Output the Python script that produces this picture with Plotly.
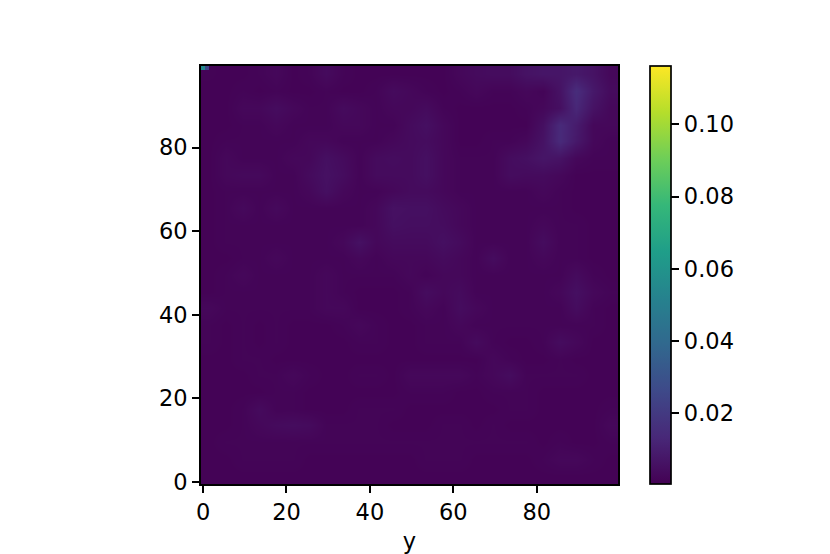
import plotly.graph_objects as go

# Estimated field values (in thousandths), coarse read of the picture; top row first
x_centers = [1.5, 5.5, 9.5, 13.5, 17.5, 21.5, 25.5, 29.5, 33.5, 37.5, 41.5, 45.5, 49.5,
             53.5, 57.5, 61.5, 65.5, 69.5, 73.5, 77.5, 81.5, 85.5, 89.5, 93.5, 97.5]
y_centers = [97.5, 93.5, 89.5, 85.5, 81.5, 77.5, 73.5, 69.5, 65.5, 61.5, 57.5, 53.5, 49.5,
             45.5, 41.5, 37.5, 33.5, 29.5, 25.5, 21.5, 17.5, 13.5, 9.5, 5.5, 1.5]
z_milli = [
 [1.2, 1, 1, 1.5, 2.5, 1, 1.5, 3.5, 1.5, 1, 1, 1, 1, 1, 1, 2.5, 3.5, 4, 4, 6, 7, 7, 8, 6, 2.5],
 [1, 1, 1.5, 1, 1.5, 1, 1, 1.5, 1, 1, 1.5, 3.5, 2.5, 1.5, 1, 1.5, 2.5, 1.5, 1.5, 2.5, 1.5, 6, 15, 8, 3.5],
 [1, 1, 2.5, 2.5, 4, 2.5, 1.5, 1.5, 3.5, 2.5, 1.5, 2.5, 2.5, 3.5, 1.5, 1, 1, 1, 1, 1.5, 2.5, 5, 13, 6, 2.5],
 [1, 1, 1.5, 1.5, 2.5, 1.5, 1.5, 1.5, 2.5, 2.5, 1.5, 1.5, 3.5, 5, 2.5, 1, 1, 1, 1, 1, 5, 14, 9, 2.5, 2.5],
 [1, 1.5, 1.5, 1.5, 1.5, 1.5, 2.5, 2.5, 1.5, 1.5, 1.5, 2.5, 3.5, 4, 2.5, 1, 1, 1.5, 1.5, 2.5, 6, 14, 8, 2.5, 1.5],
 [1, 2.5, 1.5, 1.5, 1.5, 2.5, 2.5, 5, 3.5, 1.5, 3.5, 4, 3.5, 5, 2.5, 1.5, 1.5, 1.5, 4, 5, 7, 6, 2.5, 1.5, 1.5],
 [1, 2.5, 3, 3, 1.5, 1.5, 3.5, 5.5, 4, 1.5, 3.5, 3.5, 3.5, 5, 2.5, 1.5, 1.5, 1.5, 4, 3.5, 3.5, 2.5, 1, 1, 1],
 [1, 1.5, 1.5, 1.5, 1.5, 1.5, 2.5, 5, 2.5, 1.5, 1.5, 2.5, 3.5, 3.5, 2.5, 1.5, 1.5, 1.5, 1.5, 1.5, 2.5, 1.5, 1, 1, 1],
 [1, 1.5, 3, 1.5, 3, 1.5, 1.5, 1.5, 1.5, 1.5, 2.5, 5.5, 5, 5, 3.5, 2.5, 1.5, 1.5, 1.5, 1.5, 1.5, 1.5, 1, 1, 1],
 [1, 1.5, 1.5, 1.5, 1.5, 1.5, 1.5, 1.5, 1.5, 1.5, 2.5, 5, 4.5, 4.5, 4, 2.5, 1.5, 1.5, 1.5, 1.5, 2.5, 1.5, 1.5, 1, 1],
 [1, 1.5, 1.5, 1.5, 1.5, 1.5, 1.5, 1.5, 2.5, 5.5, 2.5, 3.5, 3.5, 3.5, 5, 3.5, 1.5, 1.5, 1.5, 1.5, 4, 1.5, 1.5, 1, 1],
 [1, 1, 1.5, 1.5, 2.5, 1.5, 1.5, 1.5, 1.5, 2.5, 1.5, 2.5, 2.5, 2.5, 3.5, 2.5, 1.5, 4, 1.5, 1.5, 2.5, 1.5, 1.5, 1, 1],
 [1, 1.5, 2.5, 1.5, 1.5, 1.5, 1.5, 2.5, 1.5, 1.5, 1.5, 1.5, 2.5, 1.5, 2.5, 2.5, 1.5, 1.5, 1.5, 1.5, 1.5, 1.5, 3.5, 1.5, 1],
 [1, 1.5, 1.5, 1.5, 1.5, 1.5, 1.5, 2.5, 1.5, 1, 1, 1, 1.5, 4, 2.5, 3.5, 1.5, 1.5, 1.5, 1.5, 1.5, 2.5, 5, 2.5, 1.5],
 [2.5, 1.5, 1.5, 1.5, 1.5, 1.5, 1.5, 2.5, 2.5, 1, 1, 1, 1.5, 2.5, 1.5, 4, 2.5, 1.5, 1.5, 1.5, 1.5, 1.5, 4, 1.5, 1],
 [1.5, 1, 1.5, 1, 1.5, 1, 1, 1, 1.5, 2.5, 1.5, 1, 1, 1.5, 1.5, 2.5, 1.5, 1.5, 1.5, 1.5, 1.5, 1.5, 1.5, 1.5, 1],
 [1.5, 1, 1.5, 1, 1.5, 1, 1, 1, 1, 1.5, 1.5, 1, 1, 1.5, 1.5, 1.5, 3.5, 1.5, 1, 1, 1.5, 4, 2.5, 1, 1],
 [1, 1, 1.5, 1.5, 1, 1, 1, 1, 1, 1, 1, 1, 1, 1, 1, 1, 1, 2.5, 1.5, 1, 1, 1.5, 1, 1, 1],
 [1, 1, 1, 1.5, 1.5, 2.5, 1.5, 1, 1, 1.5, 1.5, 1, 2.5, 2.5, 2.5, 2.5, 1.5, 2.5, 4, 1.5, 1.5, 1.5, 1.5, 1, 1],
 [1, 1, 1, 1, 1.5, 1.5, 1, 1, 1, 1, 1, 1, 1.5, 1.5, 1.5, 1, 1, 1.5, 1.5, 1.5, 1, 1, 1, 1, 1],
 [1, 1, 1.5, 3.5, 1.5, 1.5, 1, 1, 1, 1.5, 1.5, 1.5, 1, 1, 1, 1, 1, 1, 1.5, 1.5, 1, 1, 1, 1, 1.5],
 [1, 1, 1.5, 2.5, 3.5, 4, 3.5, 1.5, 1.5, 1.5, 1.5, 1, 1, 1, 1.5, 1.5, 1, 1.5, 1, 1, 1, 1, 1, 1, 2.5],
 [1, 1.5, 1.5, 1.5, 1.5, 1.5, 1.5, 1.5, 1.5, 1.5, 1.5, 1.5, 1.5, 1.5, 1.5, 1.5, 1.5, 1.5, 1.5, 1.5, 1, 1.5, 1, 1, 1.5],
 [1, 1, 1.5, 1.5, 1.5, 1.5, 1, 1, 1, 1, 1, 1, 1, 1.5, 1.5, 1.5, 1, 1, 1, 1, 1.5, 2.5, 2.5, 1.5, 1],
 [1, 1, 1, 1, 1, 1, 1, 1, 1, 1, 1, 1, 1, 1, 1, 1, 1, 1, 1, 1, 1, 1, 1, 1, 1],
]
# The bright corner cell, top left
corner_x = [0, 1]
corner_y = [99]
corner_z = [[0.055, 0.025]]

colour_min = 0.0003
colour_max = 0.1162
colour_ticks = [0.02, 0.04, 0.06, 0.08, 0.10]
x_ticks = [0, 20, 40, 60, 80]
y_ticks = [0, 20, 40, 60, 80]
x_title = "y"

FONT = dict(family="DejaVu Sans", size=22.5, color="black")
LW = 1.7

z = [[v / 1000 for v in row] for row in z_milli]

fig = go.Figure()
fig.add_trace(go.Heatmap(x=x_centers, y=y_centers, z=z, coloraxis="coloraxis",
                         zsmooth="best", hoverinfo="skip"))
fig.add_trace(go.Heatmap(x=corner_x, y=corner_y, z=corner_z, coloraxis="coloraxis",
                         hoverinfo="skip"))

axis_common = dict(range=[-0.5, 99.5], showgrid=False, zeroline=False, showline=True,
                   mirror=True, linecolor="black", linewidth=LW, ticks="outside",
                   ticklen=7, tickwidth=LW, tickcolor="black", tickfont=FONT,
                   automargin=False)
fig.update_xaxes(**axis_common, tickvals=x_ticks, title=dict(text=x_title, font=FONT))
fig.update_yaxes(**axis_common, tickvals=y_ticks)

fig.update_layout(
    width=830, height=554,
    margin=dict(l=201, r=212, t=66, b=70),
    paper_bgcolor="white", plot_bgcolor="white",
    showlegend=False,
    coloraxis=dict(
        colorscale="Viridis", cmin=colour_min, cmax=colour_max,
        colorbar=dict(
            x=1.0767, xanchor="left", xref="paper", y=0, yanchor="bottom", yref="paper",
            len=1, lenmode="fraction", thickness=21, thicknessmode="pixels",
            xpad=0, ypad=0, outlinewidth=LW, outlinecolor="black",
            ticks="outside", ticklen=8, tickwidth=LW, tickcolor="black",
            tickvals=colour_ticks, tickformat=".2f", tickfont=FONT,
        ),
    ),
)

fig.write_html("out.html", post_script="document.body.style.margin='0';",
               config={"displayModeBar": False})
